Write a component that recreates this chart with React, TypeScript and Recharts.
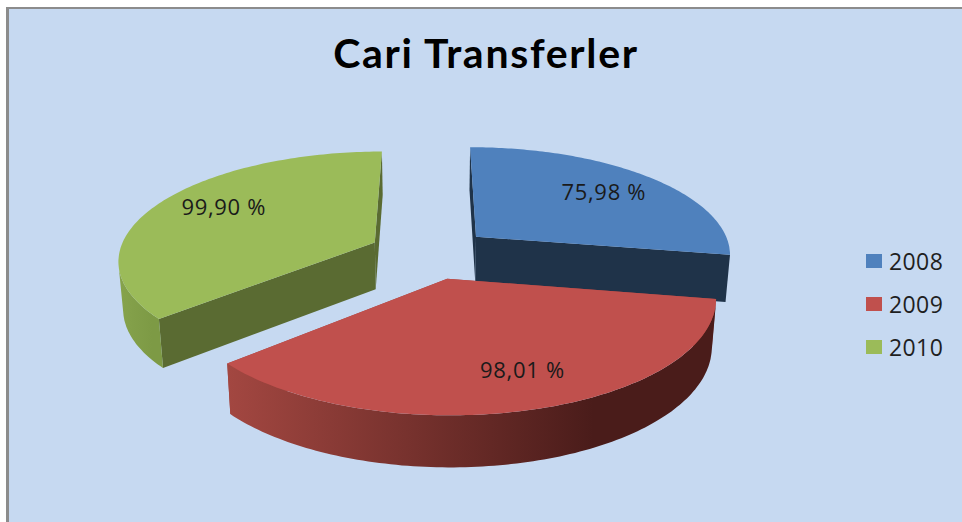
import { Legend, Pie, PieChart } from "recharts";

const YEARS = ["2008", "2009", "2010"];
const RATES = [75.98, 98.01, 99.9];
const COLORS = ["#4f81bd", "#c0504d", "#9bbb59"];
const EDGE_COLORS = ["#1f3349", "#a04540", "#5a6b32"];
const WALL_STOPS = [
  ["#1f3349", "#1f3349"],
  ["#a34741", "#4a1c1a"],
  ["#86a34c", "#7d9a45"]
];

const data = YEARS.map((year, i) => ({ year, rate: RATES[i], fill: COLORS[i], idx: i }));

const WIDTH = 962;
const HEIGHT = 522;
const CX = 430;
const CY = 253;
const RADIUS = 256;
const SQUASH = 0.42; // ellipse height vs width
const PERSPECTIVE = 0.15;
const EXPLODE = 0.24;
const DEPTH = 47;
const RAD = Math.PI / 180;
// labels sit a little off the slice's middle line in the original
const LABEL_NUDGE = [
  [5, -2],
  [17, 3],
  [1, -8]
];

// angle in recharts degrees, r as a fraction of the radius
function project(
  cx: number, cy: number, radius: number,
  mid: number, angle: number, r: number, bottom = false
) {
  const wx = r * Math.cos(angle * RAD) + EXPLODE * Math.cos(mid * RAD);
  const wy = -r * Math.sin(angle * RAD) - EXPLODE * Math.sin(mid * RAD);
  const s = 1 / (1 - PERSPECTIVE * wy);
  const x = cx + radius * wx * s;
  const y = cy + radius * SQUASH * wy * s;
  if (!bottom) return [x, y];
  return [cx + (x - cx) * 0.985, y + DEPTH * Math.sqrt(s)];
}

const toPath = (pts: number[][]) =>
  "M" + pts.map(p => `${p[0].toFixed(1)},${p[1].toFixed(1)}`).join("L") + "Z";

function SliceShape(props: any) {
  const { cx, cy, outerRadius, startAngle, endAngle, midAngle, fill, payload } = props;
  const idx = payload?.idx ?? 0;
  const mid = midAngle ?? (startAngle + endAngle) / 2;
  const at = (a: number, r: number, b = false) => project(cx, cy, outerRadius, mid, a, r, b);

  const arc: number[] = [];
  const steps = 120;
  for (let i = 0; i <= steps; i++) arc.push(startAngle + ((endAngle - startAngle) * i) / steps);

  // only the part of the rim that faces the viewer gets a wall
  const front = arc.filter(a => {
    const p = at(a, 1);
    const q = at(a - 0.5, 1);
    const w = at(a, 1, true);
    return (q[0] - p[0]) * (w[1] - p[1]) - (q[1] - p[1]) * (w[0] - p[0]) < 0;
  });

  const top = toPath([at(0, 0), ...arc.map(a => at(a, 1))]);
  const outer = toPath([...front.map(a => at(a, 1)), ...[...front].reverse().map(a => at(a, 1, true))]);
  const edge = (a: number) => toPath([at(0, 0), at(a, 1), at(a, 1, true), at(0, 0, true)]);
  const gradId = `wall-${idx}`;

  return (
    <g>
      <defs>
        <linearGradient id={gradId} x1="0" y1="0" x2="1" y2="0">
          <stop offset="0%" stopColor={WALL_STOPS[idx][0]} />
          <stop offset="75%" stopColor={WALL_STOPS[idx][1]} />
          <stop offset="100%" stopColor={WALL_STOPS[idx][1]} />
        </linearGradient>
      </defs>
      <path d={edge(startAngle)} fill={EDGE_COLORS[idx]} />
      <path d={edge(endAngle)} fill={EDGE_COLORS[idx]} />
      {front.length > 1 && <path d={outer} fill={`url(#${gradId})`} />}
      <path d={top} fill={fill} />
    </g>
  );
}

function renderLabel(props: any) {
  const { cx, cy, outerRadius, midAngle, value, index } = props;
  const [x, y] = project(cx, cy, outerRadius, midAngle, midAngle, 0.7);
  const [dx, dy] = LABEL_NUDGE[index ?? 0];
  return (
    <text
      x={x + dx}
      y={y + dy}
      textAnchor="middle"
      dominantBaseline="central"
      fontFamily="'Open Sans', sans-serif"
      fontSize={22}
      letterSpacing={0.7}
      fill="#1a1a1a"
    >
      {value.toFixed(2).replace(".", ",")} %
    </text>
  );
}

function renderLegend({ payload }: any) {
  return (
    <div>
      {(payload ?? []).map((item: any) => (
        <div key={item.value} style={{ display: "flex", alignItems: "center", height: 43 }}>
          <span style={{ width: 16, height: 14, background: item.color, marginRight: 7 }} />
          <span style={{ fontFamily: "'Open Sans', sans-serif", fontSize: 23, letterSpacing: 0.4, color: "#1f1f1f" }}>
            {item.value}
          </span>
        </div>
      ))}
    </div>
  );
}

export default function App() {
  return (
    <div
      style={{
        position: "absolute",
        left: 0,
        top: 0,
        width: WIDTH,
        height: HEIGHT,
        background: "#fff",
        overflow: "hidden"
      }}
    >
      <div
        style={{
          position: "absolute",
          left: 6,
          top: 7,
          width: WIDTH,
          height: HEIGHT,
          background: "#c6d9f1",
          borderLeft: "3px solid #8c8c8c",
          borderTop: "2px solid #8c8c8c"
        }}
      />
      <div style={{ position: "absolute", left: 0, top: 0 }}>
        <PieChart width={WIDTH} height={HEIGHT} margin={{ top: 0, right: 0, bottom: 0, left: 0 }}>
          <text
            x={486}
            y={68}
            textAnchor="middle"
            fontFamily="Lato, sans-serif"
            fontWeight={700}
            fontSize={41}
            letterSpacing={1.7}
            fill="#000"
          >
            Cari Transferler
          </text>
          <Pie
            data={data}
            dataKey="rate"
            nameKey="year"
            cx={CX}
            cy={CY}
            outerRadius={RADIUS}
            startAngle={90}
            endAngle={-270}
            stroke="none"
            shape={SliceShape}
            label={renderLabel}
            labelLine={false}
            isAnimationActive={false}
          />
          <Legend
            layout="vertical"
            align="right"
            verticalAlign="top"
            content={renderLegend}
            wrapperStyle={{ left: 866, top: 239, width: 96, right: "auto" }}
          />
        </PieChart>
      </div>
    </div>
  );
}
